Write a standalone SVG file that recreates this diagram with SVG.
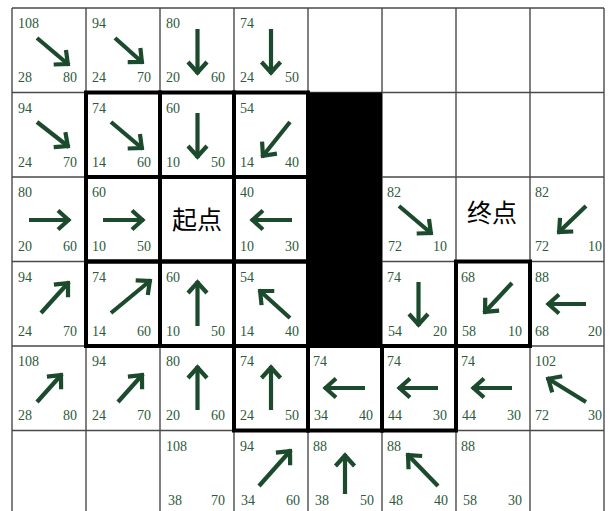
<svg xmlns="http://www.w3.org/2000/svg" width="611" height="511" viewBox="0 0 611 511">
<style>
.g{stroke:#4a4a4a;stroke-width:1.4;fill:none}
.tk{stroke:#000;stroke-width:4;fill:none}
.n{font-family:"Liberation Serif","DejaVu Serif",serif;font-size:14px;fill:#2c5a3a}
.r{text-anchor:end}
.ar{stroke:#1c4a2c;stroke-width:4.2;fill:none;marker-end:url(#ah)}
.cj{font-family:"Noto Sans CJK SC","Noto Sans CJK JP",sans-serif;font-size:25px;fill:#000;text-anchor:middle}
</style>
<defs>
<marker id="ah" viewBox="-16 -12 18 24" refX="0" refY="0" markerWidth="18" markerHeight="24" markerUnits="userSpaceOnUse" orient="auto">
<path d="M-12,-9.5 L-1.5,0 L-12,9.5" stroke="#1c4a2c" stroke-width="4.2" fill="none"/>
</marker>
</defs>
<rect width="611" height="511" fill="#fff"/>
<g id="grid">
<path class="g" d="M12,8H604M12,92.5H604M12,177H604M12,261.5H604M12,346H604M12,430.5H604"/>
<path class="g" d="M12,8V511M86,8V511M160,8V511M234,8V511M308,8V511M382,8V511M456,8V511M530,8V511M604,8V511"/>
</g>
<rect id="obstacle" x="308" y="92.5" width="74" height="253.5" fill="#000"/>
<g id="closed">
<rect class="tk" x="86" y="92.5" width="74" height="84.5"/>
<rect class="tk" x="160" y="92.5" width="74" height="84.5"/>
<rect class="tk" x="234" y="92.5" width="74" height="84.5"/>
<rect class="tk" x="86" y="177" width="74" height="84.5"/>
<rect class="tk" x="160" y="177" width="74" height="84.5"/>
<rect class="tk" x="234" y="177" width="74" height="84.5"/>
<rect class="tk" x="86" y="261.5" width="74" height="84.5"/>
<rect class="tk" x="160" y="261.5" width="74" height="84.5"/>
<rect class="tk" x="234" y="261.5" width="74" height="84.5"/>
<rect class="tk" x="456" y="261.5" width="74" height="84.5"/>
<rect class="tk" x="234" y="346" width="74" height="84.5"/>
<rect class="tk" x="308" y="346" width="74" height="84.5"/>
<rect class="tk" x="382" y="346" width="74" height="84.5"/>
</g>
<g id="connectors">
<line class="ar" x1="37" y1="38" x2="69" y2="65"/>
<line class="ar" x1="115" y1="38" x2="143" y2="63"/>
<line class="ar" x1="197.5" y1="29" x2="197.5" y2="74"/>
<line class="ar" x1="271" y1="29" x2="271" y2="74"/>
<line class="ar" x1="37" y1="122" x2="69" y2="147"/>
<line class="ar" x1="111" y1="122" x2="143" y2="149"/>
<line class="ar" x1="197.5" y1="113" x2="197.5" y2="158"/>
<line class="ar" x1="290" y1="122" x2="262" y2="157"/>
<line class="ar" x1="29" y1="220" x2="70" y2="220"/>
<line class="ar" x1="103" y1="220" x2="144" y2="220"/>
<line class="ar" x1="292" y1="220" x2="251" y2="220"/>
<line class="ar" x1="399" y1="206" x2="432" y2="234"/>
<line class="ar" x1="586" y1="206" x2="558" y2="233"/>
<line class="ar" x1="41" y1="313" x2="69" y2="282"/>
<line class="ar" x1="111" y1="313" x2="151" y2="280"/>
<line class="ar" x1="197.5" y1="326" x2="197.5" y2="281"/>
<line class="ar" x1="290" y1="318" x2="259" y2="290"/>
<line class="ar" x1="418.5" y1="282" x2="418.5" y2="326"/>
<line class="ar" x1="512" y1="283" x2="484" y2="313"/>
<line class="ar" x1="586" y1="304" x2="547" y2="304"/>
<line class="ar" x1="37" y1="402" x2="62" y2="374"/>
<line class="ar" x1="118" y1="402" x2="143" y2="374"/>
<line class="ar" x1="197.5" y1="410" x2="197.5" y2="366"/>
<line class="ar" x1="271" y1="410" x2="271" y2="366"/>
<line class="ar" x1="365" y1="388" x2="324" y2="388"/>
<line class="ar" x1="438" y1="388" x2="398" y2="388"/>
<line class="ar" x1="512" y1="388" x2="472" y2="388"/>
<line class="ar" x1="586" y1="402" x2="547" y2="378"/>
<line class="ar" x1="259" y1="486" x2="291" y2="450"/>
<line class="ar" x1="345" y1="494" x2="345" y2="454"/>
<line class="ar" x1="438" y1="486" x2="407" y2="454"/>
</g>
<g id="c00"><text class="n" x="18" y="28">108</text><text class="n" x="18" y="82">28</text><text class="n r" x="77" y="82">80</text></g>
<g id="c01"><text class="n" x="92" y="28">94</text><text class="n" x="92" y="82">24</text><text class="n r" x="151" y="82">70</text></g>
<g id="c02"><text class="n" x="166" y="28">80</text><text class="n" x="166" y="82">20</text><text class="n r" x="225" y="82">60</text></g>
<g id="c03"><text class="n" x="240" y="28">74</text><text class="n" x="240" y="82">24</text><text class="n r" x="299" y="82">50</text></g>
<g id="c10"><text class="n" x="18" y="112.5">94</text><text class="n" x="18" y="166.5">24</text><text class="n r" x="77" y="166.5">70</text></g>
<g id="c11"><text class="n" x="92" y="112.5">74</text><text class="n" x="92" y="166.5">14</text><text class="n r" x="151" y="166.5">60</text></g>
<g id="c12"><text class="n" x="166" y="112.5">60</text><text class="n" x="166" y="166.5">10</text><text class="n r" x="225" y="166.5">50</text></g>
<g id="c13"><text class="n" x="240" y="112.5">54</text><text class="n" x="240" y="166.5">14</text><text class="n r" x="299" y="166.5">40</text></g>
<g id="c20"><text class="n" x="18" y="197">80</text><text class="n" x="18" y="251">20</text><text class="n r" x="77" y="251">60</text></g>
<g id="c21"><text class="n" x="92" y="197">60</text><text class="n" x="92" y="251">10</text><text class="n r" x="151" y="251">50</text></g>
<g id="start"><text class="cj" x="197" y="229">起点</text></g>
<g id="c23"><text class="n" x="240" y="197">40</text><text class="n" x="240" y="251">10</text><text class="n r" x="299" y="251">30</text></g>
<g id="c25"><text class="n" x="387" y="197">82</text><text class="n" x="388" y="251">72</text><text class="n r" x="447" y="251">10</text></g>
<g id="goal"><text class="cj" x="492" y="222">终点</text></g>
<g id="c27"><text class="n" x="535" y="197">82</text><text class="n" x="535" y="251">72</text><text class="n r" x="602" y="251">10</text></g>
<g id="c30"><text class="n" x="18" y="281.5">94</text><text class="n" x="18" y="335.5">24</text><text class="n r" x="77" y="335.5">70</text></g>
<g id="c31"><text class="n" x="92" y="281.5">74</text><text class="n" x="92" y="335.5">14</text><text class="n r" x="151" y="335.5">60</text></g>
<g id="c32"><text class="n" x="166" y="281.5">60</text><text class="n" x="166" y="335.5">10</text><text class="n r" x="225" y="335.5">50</text></g>
<g id="c33"><text class="n" x="240" y="281.5">54</text><text class="n" x="240" y="335.5">14</text><text class="n r" x="299" y="335.5">40</text></g>
<g id="c35"><text class="n" x="387" y="281.5">74</text><text class="n" x="388" y="335.5">54</text><text class="n r" x="447" y="335.5">20</text></g>
<g id="c36"><text class="n" x="461" y="281.5">68</text><text class="n" x="462" y="335.5">58</text><text class="n r" x="522" y="335.5">10</text></g>
<g id="c37"><text class="n" x="535" y="281.5">88</text><text class="n" x="535" y="335.5">68</text><text class="n r" x="602" y="335.5">20</text></g>
<g id="c40"><text class="n" x="18" y="366">108</text><text class="n" x="18" y="420">28</text><text class="n r" x="77" y="420">80</text></g>
<g id="c41"><text class="n" x="92" y="366">94</text><text class="n" x="92" y="420">24</text><text class="n r" x="151" y="420">70</text></g>
<g id="c42"><text class="n" x="166" y="366">80</text><text class="n" x="166" y="420">20</text><text class="n r" x="225" y="420">60</text></g>
<g id="c43"><text class="n" x="240" y="366">74</text><text class="n" x="240" y="420">24</text><text class="n r" x="299" y="420">50</text></g>
<g id="c44"><text class="n" x="313" y="366">74</text><text class="n" x="314" y="420">34</text><text class="n r" x="373" y="420">40</text></g>
<g id="c45"><text class="n" x="387" y="366">74</text><text class="n" x="388" y="420">44</text><text class="n r" x="447" y="420">30</text></g>
<g id="c46"><text class="n" x="461" y="366">74</text><text class="n" x="462" y="420">44</text><text class="n r" x="521" y="420">30</text></g>
<g id="c47"><text class="n" x="535" y="366">102</text><text class="n" x="535" y="420">72</text><text class="n r" x="602" y="420">30</text></g>
<g id="c52"><text class="n" x="166" y="450.5">108</text><text class="n" x="168" y="504.5">38</text><text class="n r" x="225" y="504.5">70</text></g>
<g id="c53"><text class="n" x="240" y="450.5">94</text><text class="n" x="241" y="504.5">34</text><text class="n r" x="300" y="504.5">60</text></g>
<g id="c54"><text class="n" x="313" y="450.5">88</text><text class="n" x="315" y="504.5">38</text><text class="n r" x="374" y="504.5">50</text></g>
<g id="c55"><text class="n" x="387" y="450.5">88</text><text class="n" x="389" y="504.5">48</text><text class="n r" x="448" y="504.5">40</text></g>
<g id="c56"><text class="n" x="461" y="450.5">88</text><text class="n" x="463" y="504.5">58</text><text class="n r" x="522" y="504.5">30</text></g>
</svg>
